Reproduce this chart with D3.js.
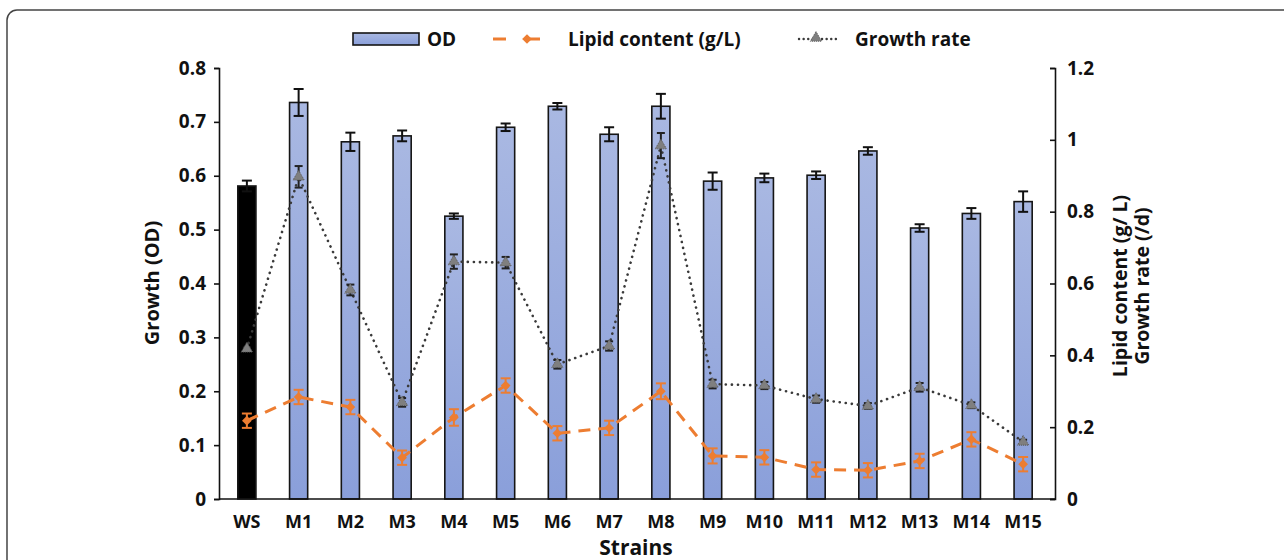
<!DOCTYPE html>
<html>
<head>
<meta charset="utf-8">
<script src="https://cdn.jsdelivr.net/npm/d3@7"></script>
<style>
  body { margin: 0; background: #fff; }
  svg text { font-family: "Open Sans", "Noto Sans", sans-serif; font-weight: 700; fill: #111; }
</style>
</head>
<body>
<svg id="chart" width="1284" height="560"></svg>
<script>
// strains on the x axis
var strains = ["WS", "M1", "M2", "M3", "M4", "M5", "M6", "M7", "M8", "M9", "M10", "M11", "M12", "M13", "M14", "M15"];
// OD bars (left axis) with error
var od = [0.581, 0.736, 0.663, 0.674, 0.525, 0.690, 0.729, 0.677, 0.729, 0.590, 0.596, 0.601, 0.646, 0.503, 0.530, 0.552];
var odErr = [0.010, 0.025, 0.017, 0.010, 0.005, 0.007, 0.006, 0.013, 0.023, 0.016, 0.008, 0.007, 0.007, 0.007, 0.010, 0.019];
// lipid content g/L (right axis)
var lipid = [0.218, 0.284, 0.256, 0.115, 0.227, 0.316, 0.183, 0.198, 0.300, 0.120, 0.116, 0.082, 0.080, 0.106, 0.166, 0.097];
var lipidErr = [0.020, 0.020, 0.020, 0.020, 0.023, 0.020, 0.020, 0.020, 0.022, 0.021, 0.020, 0.020, 0.020, 0.020, 0.020, 0.020];
// growth rate /d (right axis)
var growth = [0.418, 0.897, 0.582, 0.269, 0.661, 0.658, 0.375, 0.426, 0.984, 0.320, 0.316, 0.278, 0.259, 0.311, 0.261, 0.159];
var growthErr = [0.004, 0.030, 0.015, 0.012, 0.020, 0.016, 0.012, 0.013, 0.035, 0.012, 0.010, 0.010, 0.008, 0.012, 0.008, 0.006];
// tick labels
var leftTicks = [0, 0.1, 0.2, 0.3, 0.4, 0.5, 0.6, 0.7, 0.8];
var rightTicks = [0, 0.2, 0.4, 0.6, 0.8, 1.0, 1.2];

var svg = d3.select("#chart");

// figure frame
svg.append("rect")
  .attr("x", 7).attr("y", 10)
  .attr("width", 1300).attr("height", 600)
  .attr("rx", 10)
  .attr("fill", "none")
  .attr("stroke", "#444")
  .attr("stroke-width", 1.5);

var axisLeftX = 219, axisRightX = 1055, baseY = 499, topY = 68;

var x = d3.scaleBand().domain(strains).range([221, 1049]).paddingInner(0.65).paddingOuter(0.325);
var yL = d3.scaleLinear().domain([0, 0.8]).range([baseY, topY]);
var yR = d3.scaleLinear().domain([0, 1.2]).range([baseY, topY]);
var cx = function (i) { return x(strains[i]) + x.bandwidth() / 2; };

var defs = svg.append("defs");
var grad = defs.append("linearGradient").attr("id", "barGrad")
  .attr("x1", 0).attr("y1", 0).attr("x2", 0).attr("y2", 1);
grad.append("stop").attr("offset", "0%").attr("stop-color", "#a9b8e2");
grad.append("stop").attr("offset", "100%").attr("stop-color", "#8a9fda");

// bars
svg.selectAll(".bar")
  .data(od)
  .enter()
  .append("rect")
  .attr("class", "bar")
  .attr("x", (d, i) => x(strains[i]))
  .attr("width", x.bandwidth())
  .attr("y", d => yL(d))
  .attr("height", d => baseY - yL(d))
  .attr("fill", (d, i) => i === 0 ? "#000" : "url(#barGrad)")
  .attr("stroke", "#151515")
  .attr("stroke-width", 1.6);

function errorBars(vals, errs, scale, color, capW, sw) {
  var g = svg.append("g").attr("stroke", color).attr("stroke-width", sw).attr("fill", "none");
  vals.forEach(function (v, i) {
    var c = cx(i), y1 = scale(v + errs[i]), y2 = scale(v - errs[i]);
    g.append("line").attr("x1", c).attr("x2", c).attr("y1", y1).attr("y2", y2);
    g.append("line").attr("x1", c - capW / 2).attr("x2", c + capW / 2).attr("y1", y1).attr("y2", y1);
    g.append("line").attr("x1", c - capW / 2).attr("x2", c + capW / 2).attr("y1", y2).attr("y2", y2);
  });
}

errorBars(od, odErr, yL, "#111", 10, 2);

// growth rate line
var line = d3.line().x((d, i) => cx(i));
svg.append("path")
  .datum(growth)
  .attr("d", line.y(d => yR(d)))
  .attr("fill", "none")
  .attr("stroke", "#3a3a3a")
  .attr("stroke-width", 2.6)
  .attr("stroke-linecap", "round")
  .attr("stroke-dasharray", "0.1,6");

errorBars(growth, growthErr, yR, "#222", 8, 2);

var tri = d3.symbol().type(d3.symbolTriangle).size(55);
svg.selectAll(".tri")
  .data(growth)
  .enter()
  .append("path")
  .attr("class", "tri")
  .attr("transform", (d, i) => "translate(" + cx(i) + "," + yR(d) + ")")
  .attr("d", tri)
  .attr("fill", "#7f7f7f")
  .attr("stroke", "#5a5a5a")
  .attr("stroke-width", 1)
  .attr("stroke-dasharray", "1,1");

// lipid line
svg.append("path")
  .datum(lipid)
  .attr("d", d3.line().x((d, i) => cx(i)).y(d => yR(d)))
  .attr("fill", "none")
  .attr("stroke", "#ed7d31")
  .attr("stroke-width", 3)
  .attr("stroke-dasharray", "12,8");

errorBars(lipid, lipidErr, yR, "#ed7d31", 10, 2);

var dia = d3.symbol().type(d3.symbolDiamond2).size(60);
svg.selectAll(".dia")
  .data(lipid)
  .enter()
  .append("path")
  .attr("class", "dia")
  .attr("transform", (d, i) => "translate(" + cx(i) + "," + yR(d) + ")")
  .attr("d", dia)
  .attr("fill", "#ed7d31");

// axes
var gL = svg.append("g").attr("transform", "translate(" + axisLeftX + ",0)")
  .call(d3.axisLeft(yL).tickValues(leftTicks).tickSize(5).tickPadding(5).tickFormat(d => d === 0 ? "0" : d3.format(".1f")(d)));
var gR = svg.append("g").attr("transform", "translate(" + axisRightX + ",0)")
  .call(d3.axisRight(yR).tickValues(rightTicks).tickSize(-5).tickPadding(12).tickFormat(d => d === 0 ? "0" : (d === 1 ? "1" : d3.format(".1f")(d))));
[gL, gR].forEach(function (g) {
  g.select(".domain").attr("stroke", "#111").attr("stroke-width", 1.6);
  g.selectAll(".tick line").attr("stroke", "#111").attr("stroke-width", 1.6);
  g.selectAll("text").attr("font-size", 19).style("font-family", "'Open Sans', sans-serif").style("font-weight", 700).attr("fill", "#111");
});
gL.selectAll("text").attr("dx", -3);

svg.append("line")
  .attr("x1", axisLeftX).attr("x2", axisRightX)
  .attr("y1", baseY).attr("y2", baseY)
  .attr("stroke", "#111").attr("stroke-width", 1.6);

svg.selectAll(".xlab")
  .data(strains)
  .enter()
  .append("text")
  .attr("class", "xlab")
  .attr("x", (d, i) => cx(i))
  .attr("y", 528)
  .attr("text-anchor", "middle")
  .attr("font-size", 18)
  .text(d => d);

svg.append("text")
  .attr("x", 636).attr("y", 555)
  .attr("text-anchor", "middle")
  .attr("font-size", 21)
  .text("Strains");

svg.append("text")
  .attr("transform", "translate(152,283) rotate(-90)")
  .attr("text-anchor", "middle")
  .attr("dy", "0.35em")
  .attr("font-size", 20)
  .text("Growth (OD)");

svg.append("text")
  .attr("transform", "translate(1120,286) rotate(-90)")
  .attr("text-anchor", "middle")
  .attr("dy", "0.35em")
  .attr("font-size", 19.5)
  .text("Lipid content (g/ L)");

svg.append("text")
  .attr("transform", "translate(1142,286) rotate(-90)")
  .attr("text-anchor", "middle")
  .attr("dy", "0.35em")
  .attr("font-size", 19.5)
  .text("Growth rate  (/d)");

// legend
var lg = svg.append("g");
lg.append("rect")
  .attr("x", 353).attr("y", 33).attr("width", 66).attr("height", 12)
  .attr("fill", "url(#barGrad)").attr("stroke", "#151515").attr("stroke-width", 1.6);
lg.append("text").attr("x", 427).attr("y", 46).attr("font-size", 19).text("OD");

lg.append("line").attr("x1", 493).attr("x2", 558).attr("y1", 39).attr("y2", 39)
  .attr("stroke", "#ed7d31").attr("stroke-width", 3).attr("stroke-dasharray", "13,21");
lg.append("path").attr("transform", "translate(527,39)").attr("d", dia).attr("fill", "#ed7d31");
lg.append("text").attr("x", 568).attr("y", 46).attr("font-size", 19).text("Lipid content (g/L)");

lg.append("line").attr("x1", 799).attr("x2", 837).attr("y1", 39).attr("y2", 39)
  .attr("stroke", "#3a3a3a").attr("stroke-width", 2.4).attr("stroke-linecap", "round").attr("stroke-dasharray", "0.1,4.5");
lg.append("path").attr("transform", "translate(816,38)").attr("d", tri)
  .attr("fill", "#7f7f7f").attr("stroke", "#5a5a5a").attr("stroke-width", 1).attr("stroke-dasharray", "1,1");
lg.append("text").attr("x", 855).attr("y", 46).attr("font-size", 19).text("Growth rate");
</script>
</body>
</html>
